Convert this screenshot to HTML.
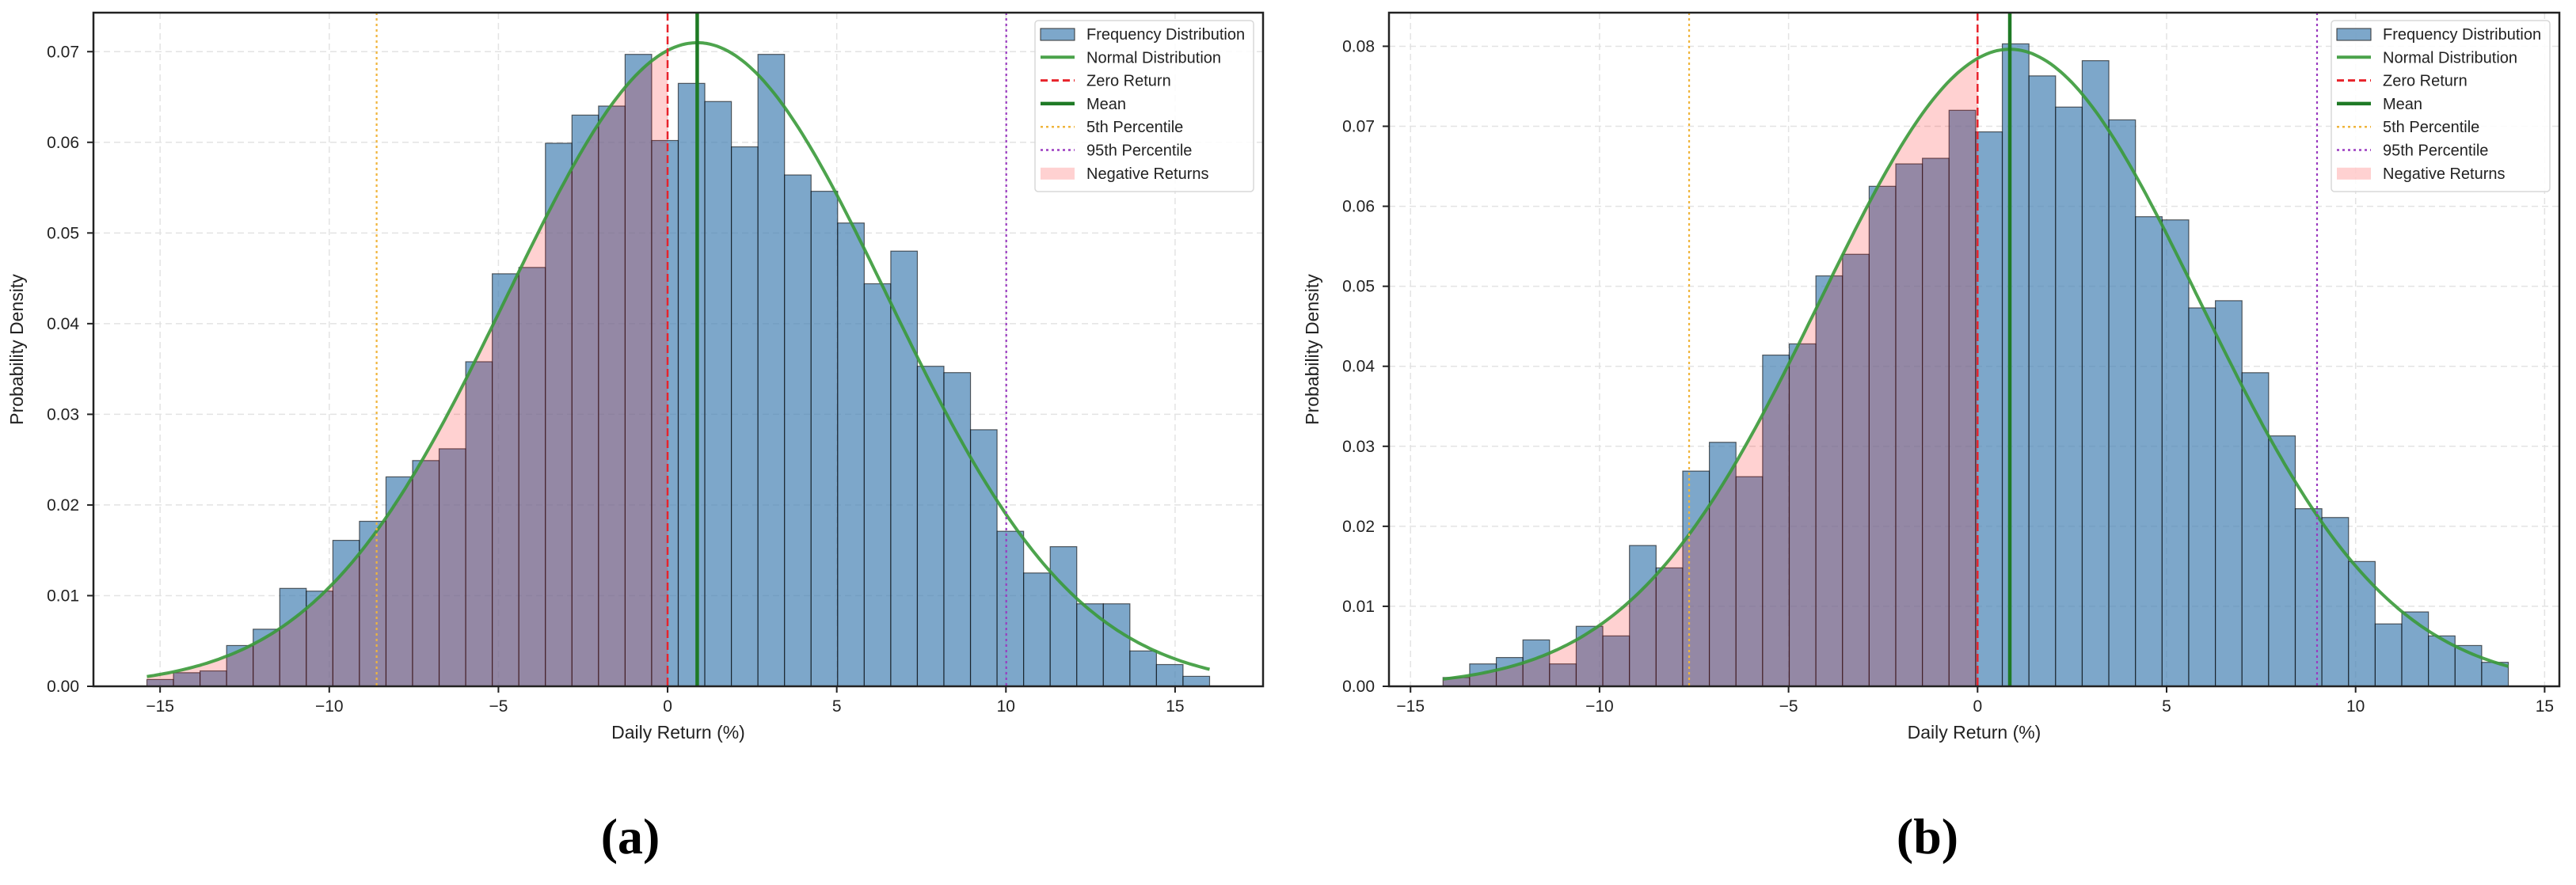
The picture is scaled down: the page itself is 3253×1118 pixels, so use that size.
<!DOCTYPE html>
<html><head><meta charset="utf-8"><style>
body{margin:0;background:#fff;}
svg{display:block;font-family:"Liberation Sans",Arial,sans-serif;}
</style></head><body>
<svg id="fig" width="3253" height="1118" viewBox="0 0 3253 1118" xmlns="http://www.w3.org/2000/svg"></svg>
<script>
const NS="http://www.w3.org/2000/svg";
// Panel (a) data
const aBins=[0.00075,0.0015,0.0017,0.0045,0.0063,0.0108,0.0105,0.0161,0.0182,0.0231,0.0249,0.0262,0.0358,0.0455,0.0462,0.0599,0.063,0.064,0.0697,0.0602,0.0665,0.0645,0.0595,0.0697,0.0564,0.0546,0.0511,0.0444,0.048,0.0353,0.0346,0.0283,0.0171,0.0125,0.0154,0.0091,0.0091,0.0039,0.0024,0.0011];
const aRange=[-15.39,16.02];
const aStats=[0.875,5.62,-8.60,10.01]; // mean, sd, p5, p95
const aYTicks=[0,0.01,0.02,0.03,0.04,0.05,0.06,0.07];
const aXTicks=[-15,-10,-5,0,5,10,15];
// Panel (b) data
const bBins=[0.0011,0.0028,0.0036,0.0058,0.0028,0.0075,0.0063,0.0176,0.0148,0.0269,0.0305,0.0262,0.0414,0.0428,0.0513,0.054,0.0625,0.0653,0.066,0.072,0.0693,0.0803,0.0763,0.0724,0.0782,0.0708,0.0587,0.0583,0.0473,0.0482,0.0392,0.0313,0.0222,0.0211,0.0156,0.0078,0.0093,0.0063,0.0051,0.003];
const bRange=[-14.14,14.04];
const bStats=[0.853,5.01,-7.63,8.98];
const bYTicks=[0,0.01,0.02,0.03,0.04,0.05,0.06,0.07,0.08];
const bXTicks=[-15,-10,-5,0,5,10,15];

const svg=document.getElementById('fig');
function el(tag,attrs,parent){const e=document.createElementNS(NS,tag);for(const k in attrs)e.setAttribute(k,attrs[k]);(parent||svg).appendChild(e);return e;}

function panel(id,bins,range,stats,yTicks,xTicks,box,dom,caption,capX){
  const [L,T,R,B]=box;const [x0,x1,y1]=dom;
  const g=el('g',{});
  
  
  const X=v=>L+(v-x0)/(x1-x0)*(R-L);
  const Y=v=>B-v/y1*(B-T);
  yTicks.forEach(t=>{const l=el('line',{x1:L,x2:R,y1:Y(t),y2:Y(t),stroke:'#e3e3e3','stroke-width':1.5,'stroke-dasharray':'8,5'},g);
    });
  xTicks.forEach(t=>{const l=el('line',{x1:X(t),x2:X(t),y1:T,y2:B,stroke:'#e3e3e3','stroke-width':1.5,'stroke-dasharray':'8,5'},g);
    });
  const w=(range[1]-range[0])/bins.length;
  bins.forEach((v,i)=>{const a=range[0]+i*w;
    const r=el('rect',{x:X(a),y:Y(v),width:X(a+w)-X(a),height:B-Y(v),fill:'rgba(70,130,180,0.7)',stroke:'rgba(0,0,0,0.6)','stroke-width':1.2},g);
    });
  const [mu,sd,p5,p95]=stats;
  const pdf=x=>Math.exp(-0.5*((x-mu)/sd)**2)/(sd*Math.sqrt(2*Math.PI));
  let d='M'+X(range[0])+','+Y(0);
  for(let i=0;i<=200;i++){const x=range[0]+(0-range[0])*i/200;d+=' L'+X(x).toFixed(1)+','+Y(pdf(x)).toFixed(1);}
  d+=' L'+X(0)+','+Y(0)+'Z';
  const f=el('path',{d:d,fill:'rgba(255,0,0,0.18)'},g);
  
  let c='';for(let i=0;i<=300;i++){const x=range[0]+(range[1]-range[0])*i/300;c+=(i?' L':'M')+X(x).toFixed(1)+','+Y(pdf(x)).toFixed(1);}
  const cu=el('path',{d:c,fill:'none',stroke:'#3a9a3a','stroke-width':4,'stroke-opacity':0.9},g);
  
  const vl=(x,col,dash,wd,name)=>{const l=el('line',{x1:X(x),x2:X(x),y1:T,y2:B,stroke:col,'stroke-width':wd,'stroke-dasharray':dash},g);
    };
  vl(0,'#e8232b','10,5',2.5,'zero-return-line');
  vl(mu,'#1e7a25','none',4.5,'mean-line');
  vl(p5,'#f0b53c','3,4',2.2,'p5-line');
  vl(p95,'#9b3cc0','3,4',2.2,'p95-line');
  const fr=el('rect',{x:L,y:T,width:R-L,height:B-T,fill:'none',stroke:'#222','stroke-width':2.5},g);
  
  yTicks.forEach(t=>{el('line',{x1:L-8,x2:L,y1:Y(t),y2:Y(t),stroke:'#222','stroke-width':2},g);
    const tx=el('text',{x:L-18,y:Y(t)+7,'text-anchor':'end','font-size':21,fill:'#222'},g);tx.textContent=t.toFixed(2);
    });
  xTicks.forEach(t=>{el('line',{x1:X(t),x2:X(t),y1:B,y2:B+8,stroke:'#222','stroke-width':2},g);
    const tx=el('text',{x:X(t),y:B+32,'text-anchor':'middle','font-size':21,fill:'#222'},g);tx.textContent=(t<0?'\u2212'+(-t):t);
    });
  const xl=el('text',{x:(L+R)/2,y:B+66,'text-anchor':'middle','font-size':23,fill:'#222'},g);xl.textContent='Daily Return (%)';
  
  const yx=L-89,yy=(T+B)/2;
  const yl=el('text',{x:yx,y:yy,'text-anchor':'middle','font-size':23,fill:'#222',transform:'rotate(-90 '+yx+' '+yy+')'},g);yl.textContent='Probability Density';
  
  const lx=R-288,ly=T+10;
  const lg=el('g',{},g);
  el('rect',{x:lx,y:ly,width:276,height:216,rx:4,fill:'rgba(255,255,255,0.85)',stroke:'#d8d8d8','stroke-width':1.5},lg);
  const items=[['Frequency Distribution','bar'],['Normal Distribution','#4aa24a','none',4],['Zero Return','#e8232b','9,5',3],['Mean','#1e7a25','none',4.5],['5th Percentile','#f0b53c','3,4',2.5],['95th Percentile','#9b3cc0','3,4',2.5],['Negative Returns','fill']];
  items.forEach((it,i)=>{const cy=ly+17+i*29.3;
    const e=el('g',{},lg);
    if(it[1]==='bar')el('rect',{x:lx+7,y:cy-7,width:43,height:15,fill:'rgba(70,130,180,0.7)',stroke:'#333','stroke-width':1},e);
    else if(it[1]==='fill')el('rect',{x:lx+7,y:cy-7,width:43,height:15,fill:'rgba(255,0,0,0.18)'},e);
    else el('line',{x1:lx+7,x2:lx+50,y1:cy,y2:cy,stroke:it[1],'stroke-width':it[3],'stroke-dasharray':it[2]},e);
    const t=el('text',{x:lx+65,y:cy+7,'font-size':20,fill:'#222'},e);t.textContent=it[0];});
  const cp=el('text',{x:capX,y:1078,'text-anchor':'middle','font-size':64,'font-weight':'bold',fill:'#000','font-family':'"Liberation Serif",serif'},g);cp.textContent=caption;
  
}
panel('a',aBins,aRange,aStats,aYTicks,aXTicks,[118,16,1595,867],[-16.97,17.6,0.0743],'(a)',796);
panel('b',bBins,bRange,bStats,bYTicks,bXTicks,[1754,16,3232,867],[-15.57,15.39,0.0842],'(b)',2434);
</script>
</body></html>
